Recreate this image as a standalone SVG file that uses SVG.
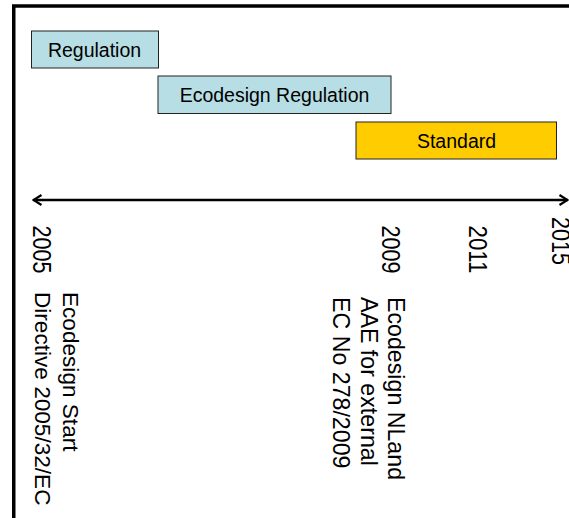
<svg xmlns="http://www.w3.org/2000/svg" width="569" height="518" viewBox="0 0 569 518">
<defs>
<style>
.t{font-family:"Liberation Sans",Arial,sans-serif;fill:#000}
.h{font-size:19.5px;text-anchor:middle}
.vl{font-size:22.6px}
.vr{font-size:23.2px}
.y{font-size:25.5px}
.box{stroke:#222;stroke-width:1}
.blue{fill:#b7dee4}
.gold{fill:#ffcc00}
</style>
<marker id="ah" viewBox="0 0 12 12" refX="10.5" refY="6" markerWidth="12" markerHeight="12" markerUnits="userSpaceOnUse" orient="auto-start-reverse">
<path d="M2,1 L10,6 L2,11" fill="none" stroke="#000" stroke-width="2.2"/>
</marker>
</defs>
<rect x="0" y="0" width="569" height="518" fill="#fff"/>
<rect id="frame" x="13.75" y="6" width="700" height="700" fill="none" stroke="#000" stroke-width="3.5"/>
<g id="connectors">
<line x1="33" y1="200" x2="568" y2="200" stroke="#000" stroke-width="2.3" marker-start="url(#ah)" marker-end="url(#ah)"/>
</g>
<g id="regulation">
<rect class="box blue" x="31.5" y="31" width="127" height="37"/>
<text class="t h" x="94.5" y="57.3">Regulation</text>
</g>
<g id="ecodesign-regulation">
<rect class="box blue" x="158" y="76" width="233" height="37.5"/>
<text class="t h" x="274.5" y="102.3">Ecodesign Regulation</text>
</g>
<g id="standard">
<rect class="box gold" x="356" y="122" width="200.5" height="37"/>
<text class="t h" x="456.5" y="148.3">Standard</text>
</g>
<g id="year-2005"><text class="t y" textLength="48" lengthAdjust="spacingAndGlyphs" transform="translate(33.3,225.5) rotate(90)">2005</text></g>
<g id="year-2009"><text class="t y" textLength="48" lengthAdjust="spacingAndGlyphs" transform="translate(381.7,225.5) rotate(90)">2009</text></g>
<g id="year-2011"><text class="t y" textLength="48" lengthAdjust="spacingAndGlyphs" transform="translate(469.3,225.5) rotate(90)">2011</text></g>
<g id="year-2015"><text class="t y" textLength="48" lengthAdjust="spacingAndGlyphs" transform="translate(551.7,217) rotate(90)">2015</text></g>
<g id="label-2005">
<text class="t vl" transform="translate(62.7,292) rotate(90)">Ecodesign Start</text>
<text class="t vl" transform="translate(35,292) rotate(90)">Directive 2005/32/EC</text>
</g>
<g id="label-2009">
<text class="t vr" transform="translate(387.7,297) rotate(90)">Ecodesign NLand</text>
<text class="t vr" transform="translate(361,297) rotate(90)">AAE for external</text>
<text class="t vr" transform="translate(333.3,297) rotate(90)">EC No 278/2009</text>
</g>
</svg>
